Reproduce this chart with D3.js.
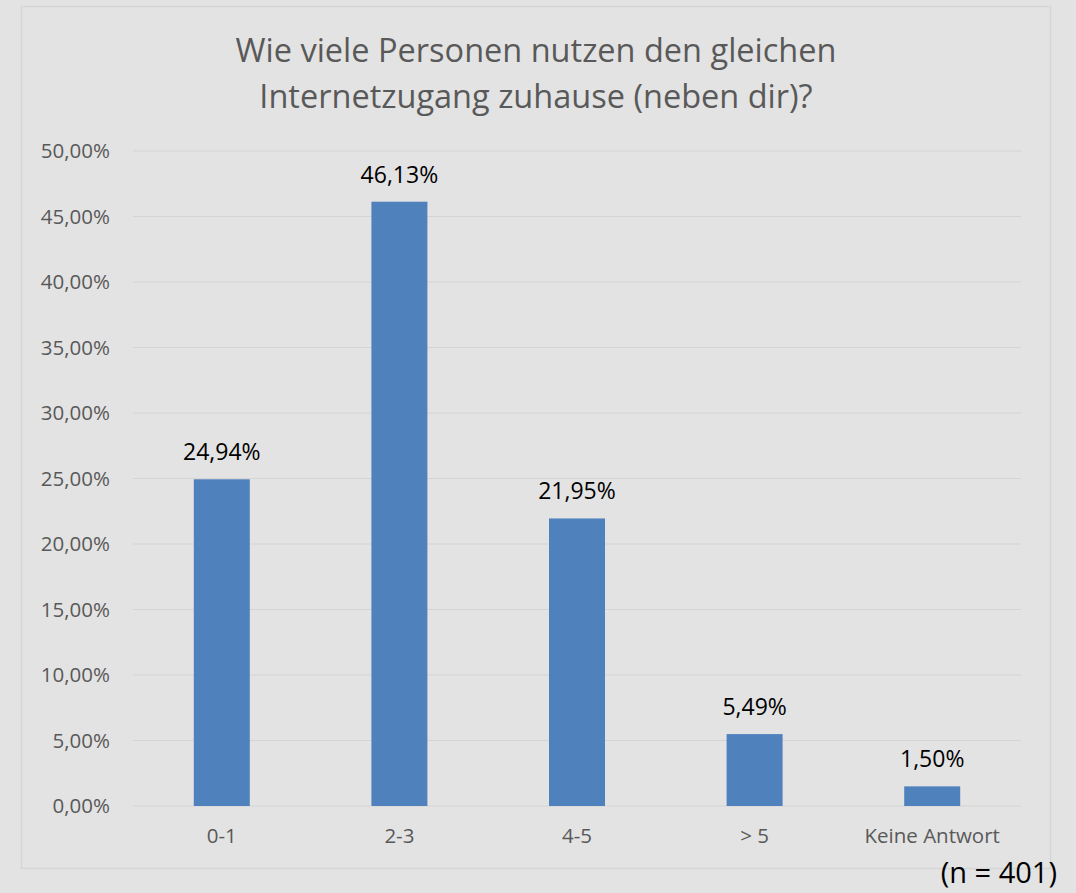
<!DOCTYPE html>
<html>
<head>
<meta charset="utf-8">
<script src="https://cdn.jsdelivr.net/npm/d3@7"></script>
<style>
  body { margin: 0; background: #e3e3e3; }
  svg { font-family: "Open Sans", sans-serif; }
</style>
</head>
<body>
<div id="chart"></div>
<script>
// size of the page
var w = 1076;
var h = 893;

// data
var categories = ["0-1", "2-3", "4-5", "> 5", "Keine Antwort"];
var values = [24.94, 46.13, 21.95, 5.49, 1.50];
var yTicks = [0, 5, 10, 15, 20, 25, 30, 35, 40, 45, 50];
var titleLines = ["Wie viele Personen nutzen den gleichen", "Internetzugang zuhause (neben dir)?"];

var fmt = function(v) { return v.toFixed(2).replace(".", ",") + "%"; };

var svg = d3.select("#chart").append("svg")
  .attr("width", w)
  .attr("height", h);

// background and chart border
svg.append("rect")
  .attr("width", w).attr("height", h)
  .attr("fill", "#e3e3e3");
svg.append("rect")
  .attr("x", 21.5).attr("y", 6.5)
  .attr("width", 1029).attr("height", 862)
  .attr("fill", "#e3e3e3")
  .attr("stroke", "#d5d5d5")
  .attr("stroke-width", 1.5);

// scales
var xScale = d3.scaleBand()
  .domain(categories)
  .range([133, 1021])
  .padding(0);

var yScale = d3.scaleLinear()
  .domain([0, 50])
  .range([806, 151]);

// gridlines
svg.selectAll(".grid")
  .data(yTicks)
  .enter()
  .append("line")
  .attr("x1", 133).attr("x2", 1021)
  .attr("y1", function(d) { return yScale(d); })
  .attr("y2", function(d) { return yScale(d); })
  .attr("stroke", "#d4d4d4")
  .attr("stroke-width", 1.2);

// y axis labels
var yAxis = d3.axisLeft(yScale)
  .tickValues(yTicks)
  .tickSize(0)
  .tickPadding(23)
  .tickFormat(fmt);
var gy = svg.append("g")
  .attr("transform", "translate(133,0)")
  .call(yAxis);
gy.select(".domain").remove();
gy.selectAll("text")
  .attr("font-size", "20.5px")
  .attr("font-family", "Open Sans, sans-serif")
  .attr("fill", "#595959");

// x axis labels
var xAxis = d3.axisBottom(xScale)
  .tickSize(0)
  .tickPadding(22);
var gx = svg.append("g")
  .attr("transform", "translate(0,806)")
  .call(xAxis);
gx.select(".domain").remove();
gx.selectAll("text")
  .attr("font-size", "20.5px")
  .attr("font-family", "Open Sans, sans-serif")
  .attr("fill", "#595959");

// bars
var barW = 56;
svg.selectAll(".bar")
  .data(values)
  .enter()
  .append("rect")
  .attr("class", "bar")
  .attr("x", function(d, i) { return xScale(categories[i]) + xScale.bandwidth() / 2 - barW / 2; })
  .attr("y", function(d) { return yScale(d); })
  .attr("width", barW)
  .attr("height", function(d) { return yScale(0) - yScale(d); })
  .attr("fill", "#4f81bd");

// value labels
svg.selectAll(".bar-label")
  .data(values)
  .enter()
  .append("text")
  .attr("class", "bar-label")
  .attr("x", function(d, i) { return xScale(categories[i]) + xScale.bandwidth() / 2; })
  .attr("y", function(d) { return yScale(d) - 19; })
  .attr("text-anchor", "middle")
  .attr("font-size", "23px")
  .attr("fill", "#000")
  .text(fmt);

// title
svg.selectAll(".title")
  .data(titleLines)
  .enter()
  .append("text")
  .attr("class", "title")
  .attr("x", 536)
  .attr("y", function(d, i) { return 62 + i * 46; })
  .attr("text-anchor", "middle")
  .attr("font-size", "32.5px")
  .attr("fill", "#595959")
  .text(function(d) { return d; });

// sample size note
svg.append("text")
  .attr("x", 1057)
  .attr("y", 883)
  .attr("text-anchor", "end")
  .attr("font-size", "29px")
  .attr("fill", "#000")
  .text("(n = 401)");
</script>
</body>
</html>
